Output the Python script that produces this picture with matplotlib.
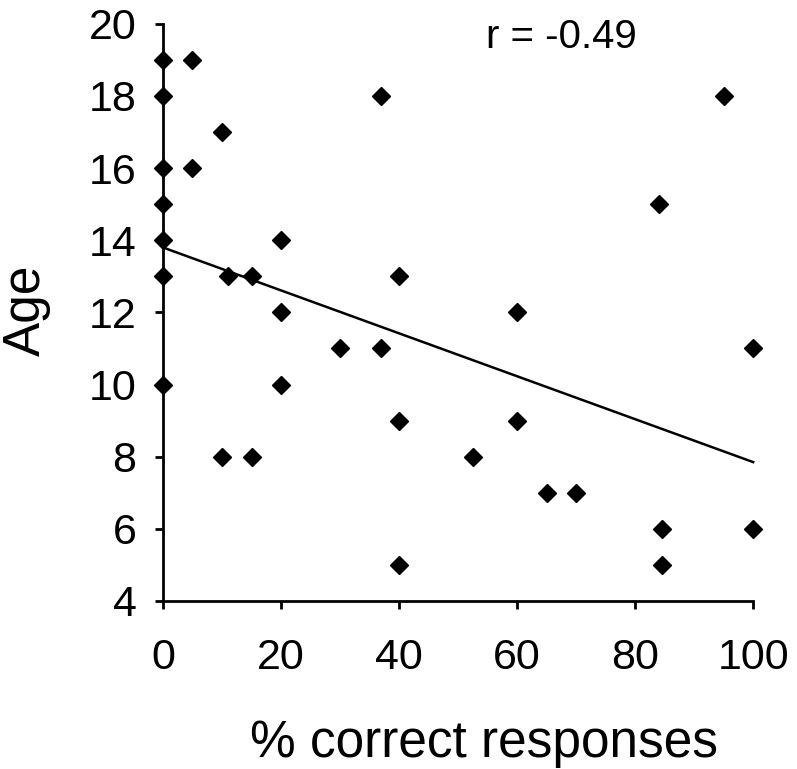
import matplotlib.pyplot as plt
import numpy as np

plt.rcParams['font.family'] = ['Liberation Sans', 'DejaVu Sans']

# % correct responses y edad de cada participante
pct_correct = [0, 0, 0, 0, 0, 0, 0,
               5, 5,
               10, 10, 11,
               15, 15,
               20, 20, 20,
               30,
               37, 37,
               40, 40, 40,
               52.5,
               60, 60,
               65, 70,
               84, 84.5, 84.5,
               95,
               100, 100]
age = [19, 18, 16, 15, 14, 13, 10,
       19, 16,
       17, 8, 13,
       13, 8,
       14, 12, 10,
       11,
       18, 11,
       13, 9, 5,
       8,
       12, 9,
       7, 7,
       15, 6, 5,
       18,
       11, 6]

# recta de tendencia
trend_intercept = 13.8
trend_slope = -0.0595

x_ticks = [0, 20, 40, 60, 80, 100]
y_ticks = [4, 6, 8, 10, 12, 14, 16, 18, 20]
r_label = 'r = -0.49'

fig = plt.figure(figsize=(7.97, 7.69), dpi=100)
ax = fig.add_axes([0.2045, 0.2185, 0.7405, 0.7505])

# puntos
ax.plot(pct_correct, age, linestyle='none', marker='D', markersize=9,
        color='black', clip_on=False, zorder=3)

# recta de tendencia
xs = np.array([0, 100])
ax.plot(xs, trend_intercept + trend_slope * xs, color='black',
        linewidth=1.8, clip_on=False)

ax.set_xlim(0, 100)
ax.set_ylim(4, 20)
ax.set_xticks(x_ticks)
ax.set_yticks(y_ticks)

for s in ['top', 'right']:
    ax.spines[s].set_visible(False)
for s in ['left', 'bottom']:
    ax.spines[s].set_linewidth(2)

ax.tick_params(direction='out', length=6, width=2, labelsize=31)
ax.tick_params(axis='x', pad=21)
ax.tick_params(axis='y', pad=13)

# etiquetas de los ejes
fig.text(484 / 797, 1 - 757 / 769, '% correct responses', fontsize=37,
         ha='center', va='baseline')
fig.text(26 / 797, 1 - 310 / 769, 'Age', fontsize=37, rotation=90,
         ha='center', va='center')

fig.text(561 / 797, 1 - 48 / 769, r_label, fontsize=29,
         ha='center', va='baseline')

plt.savefig('out.png', dpi=100)
